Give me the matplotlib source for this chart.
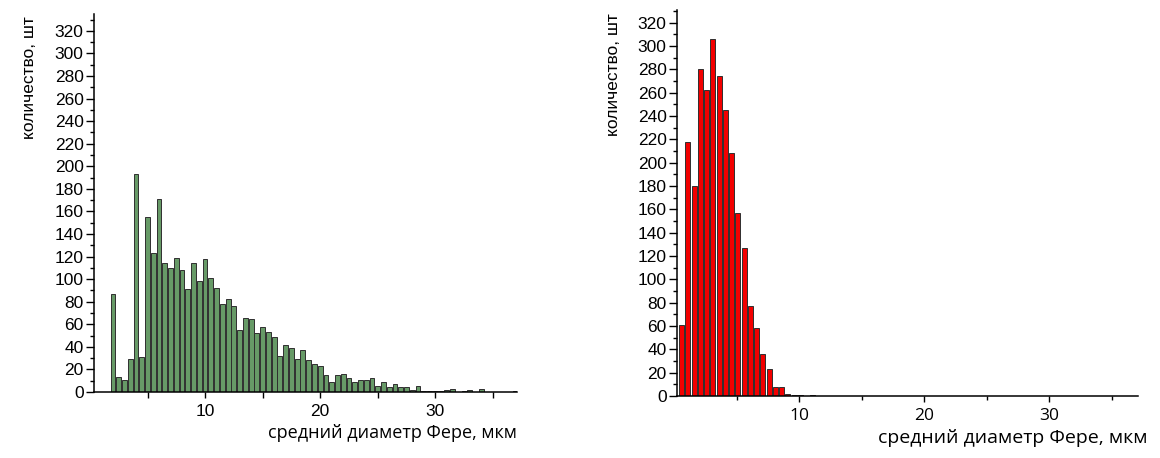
import numpy as np
import matplotlib
matplotlib.use('Agg')
import matplotlib.pyplot as plt
from matplotlib.ticker import MultipleLocator

plt.rcParams['font.family'] = ['Liberation Sans', 'DejaVu Sans']

# left histogram: 0.5 um bins starting at 2.0
left_start = 2.0
left_counts = [87, 13, 11, 29, 193, 31, 155, 123, 171, 114,
               110, 119, 108, 91, 114, 98, 118, 101, 92, 78,
               82, 76, 55, 66, 65, 52, 58, 53, 49, 32,
               42, 39, 29, 37, 28, 25, 23, 15, 9, 15,
               16, 12, 9, 11, 11, 12, 5, 9, 4, 7,
               4, 4, 2, 5, 1, 1, 1, 1, 2, 3,
               0, 1, 2, 0, 3, 0, 0, 0, 0, 0,
               1]

# right histogram: 0.5 um bins starting at 0.6
right_start = 0.6
right_counts = [61, 218, 180, 280, 262, 306, 274, 245, 208, 157,
                127, 77, 58, 36, 23, 8, 8, 2, 1, 1,
                0, 1]

x_label = 'средний диаметр Фере, мкм'
y_label = 'количество, шт'

W, H = 1160, 458
fig = plt.figure(figsize=(W / 100, H / 100), dpi=100)


def px_axes(x0, y0, x1, y1):
    return fig.add_axes([x0 / W, 1 - y1 / H, (x1 - x0) / W, (y1 - y0) / H])


def style(ax, ylim, xlim, xfont, xsize, minor_len):
    for s in ['top', 'right']:
        ax.spines[s].set_visible(False)
    for s in ['left', 'bottom']:
        ax.spines[s].set_linewidth(1.1)
    ax.set_xlim(*xlim)
    ax.set_ylim(0, ylim)
    ax.yaxis.set_major_locator(MultipleLocator(20))
    ax.yaxis.set_minor_locator(MultipleLocator(10))
    ax.xaxis.set_major_locator(MultipleLocator(10))
    ax.xaxis.set_minor_locator(MultipleLocator(5))
    ax.tick_params(axis='y', which='major', length=5.5, width=1, pad=2,
                   labelsize=12.5)
    ax.tick_params(axis='y', which='minor', length=3, width=1)
    ax.tick_params(axis='x', which='major', length=4.5, width=1, pad=4,
                   labelsize=xsize, labelfontfamily=xfont)
    ax.tick_params(axis='x', which='minor', length=minor_len, width=1)


# left chart
ax1 = px_axes(94, 14, 517, 392)
x1 = left_start + 0.5 * np.arange(len(left_counts))
ax1.bar(x1, left_counts, width=0.42, color='#679a67', edgecolor='#2f2f2f',
        linewidth=0.7)
style(ax1, 335, (0.35, 37.1), 'Liberation Sans', 12.5, 4.5)
ax1.text(1.0, -0.085, x_label, transform=ax1.transAxes, ha='right', va='top',
         fontsize=13, family='Open Sans')

# right chart
ax2 = px_axes(677, 10, 1138, 396)
x2 = right_start + 0.5 * np.arange(len(right_counts))
ax2.bar(x2, right_counts, width=0.4, color='#f20000', edgecolor='#2f2f2f',
        linewidth=0.7)
style(ax2, 331, (0.24, 37.1), 'Open Sans', 12.5, 3)
ax2.text(1.02, -0.085, x_label, transform=ax2.transAxes, ha='right', va='top',
         fontsize=14, family='Open Sans')

fig.text(30 / W, 1 - 78 / H, y_label, rotation=90, ha='center', va='center',
         fontsize=12.5)
fig.text(614 / W, 1 - 75 / H, y_label, rotation=90, ha='center', va='center',
         fontsize=12.5)

fig.savefig('out.png', dpi=100)
